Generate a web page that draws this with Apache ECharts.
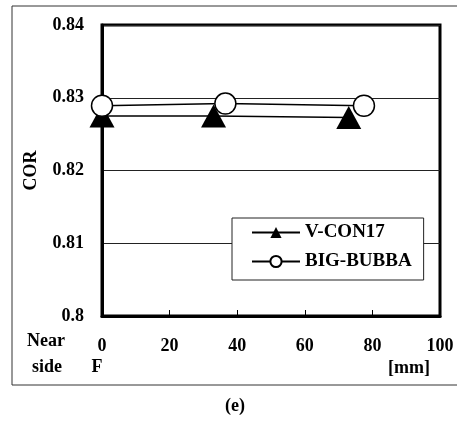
<!DOCTYPE html>
<html>
<head>
<meta charset="utf-8">
<script src="https://cdn.jsdelivr.net/npm/echarts@6/dist/echarts.min.js"></script>
<style>html,body{margin:0;padding:0;background:#fff;}#c{width:457px;height:421px;}</style>
</head>
<body>
<div id="c"></div>
<script>
var vconX = [0, 33, 73];
var vconY = [0.8275, 0.8275, 0.8273];
var bubbaX = [0, 36.5, 77.5];
var bubbaY = [0.8289, 0.8292, 0.8289];
var seriesNames = ['V-CON17', 'BIG-BUBBA'];
var xTicks = [0, 20, 40, 60, 80, 100];
var yTicks = [0.8, 0.81, 0.82, 0.83, 0.84];

var FONT = '"Liberation Serif", "Times New Roman", serif';
function pairs(xs, ys) { return xs.map(function (x, i) { return [x, ys[i]]; }); }
var txt = { fontFamily: FONT, fontWeight: 'bold', fontSize: 18, color: '#000' };

var chart = echarts.init(document.getElementById('c'), null, { renderer: 'canvas' });
chart.setOption({
  animation: false,
  backgroundColor: '#fff',
  grid: { left: 102, top: 25, right: 17, bottom: 105, show: true, borderColor: '#000', borderWidth: 3, backgroundColor: 'transparent' },
  xAxis: {
    type: 'value', min: xTicks[0], max: xTicks[xTicks.length - 1], interval: 20,
    axisLine: { show: true, lineStyle: { color: '#000', width: 3 } },
    axisTick: { show: true, inside: true, length: 6, lineStyle: { color: '#000', width: 1 } },
    axisLabel: Object.assign({ margin: 21 }, txt),
    splitLine: { show: false }
  },
  yAxis: {
    type: 'value', min: yTicks[0], max: yTicks[yTicks.length - 1], interval: 0.01,
    name: 'COR', nameLocation: 'middle', nameGap: 62, nameRotate: 90,
    nameTextStyle: txt,
    axisLine: { show: true, lineStyle: { color: '#000', width: 3 } },
    axisTick: { show: false },
    axisLabel: Object.assign({ margin: 18, formatter: function (v) { return String(+v.toFixed(2)); } }, txt),
    splitLine: { show: true, lineStyle: { color: '#222', width: 1 } }
  },
  legend: {
    orient: 'vertical', left: 232, top: 218,
    padding: [5, 12, 9, 19], itemGap: 10,
    itemWidth: 48, itemHeight: 14,
    backgroundColor: '#fff', borderColor: '#222', borderWidth: 1,
    textStyle: Object.assign({}, txt, { fontSize: 19 }),
    data: seriesNames
  },
  series: [
    {
      name: seriesNames[0], type: 'line', data: pairs(vconX, vconY),
      symbol: 'triangle', symbolSize: [25, 23],
      lineStyle: { color: '#000', width: 1.5 },
      itemStyle: { color: '#000', borderColor: '#000', borderWidth: 0 },
      z: 3
    },
    {
      name: seriesNames[1], type: 'line', data: pairs(bubbaX, bubbaY),
      symbol: 'circle', symbolSize: 21,
      lineStyle: { color: '#000', width: 1.5 },
      itemStyle: { color: '#fff', borderColor: '#000', borderWidth: 1.5 },
      z: 4
    }
  ],
  graphic: [
    { type: 'rect', shape: { x: 12, y: 6, width: 470, height: 379 }, style: { fill: 'none', stroke: '#333', lineWidth: 1 }, z: 0 },
    { type: 'text', x: 46, y: 341, style: { text: 'Near', textAlign: 'center', textVerticalAlign: 'middle', font: 'bold 18px ' + FONT, fill: '#000' } },
    { type: 'text', x: 47, y: 367, style: { text: 'side', textAlign: 'center', textVerticalAlign: 'middle', font: 'bold 18px ' + FONT, fill: '#000' } },
    { type: 'text', x: 97, y: 367, style: { text: 'F', textAlign: 'center', textVerticalAlign: 'middle', font: 'bold 18px ' + FONT, fill: '#000' } },
    { type: 'text', x: 409, y: 368, style: { text: '[mm]', textAlign: 'center', textVerticalAlign: 'middle', font: 'bold 18px ' + FONT, fill: '#000' } },
    { type: 'text', x: 235, y: 406, style: { text: '(e)', textAlign: 'center', textVerticalAlign: 'middle', font: 'bold 18px ' + FONT, fill: '#000' } }
  ]
});
</script>
</body>
</html>
